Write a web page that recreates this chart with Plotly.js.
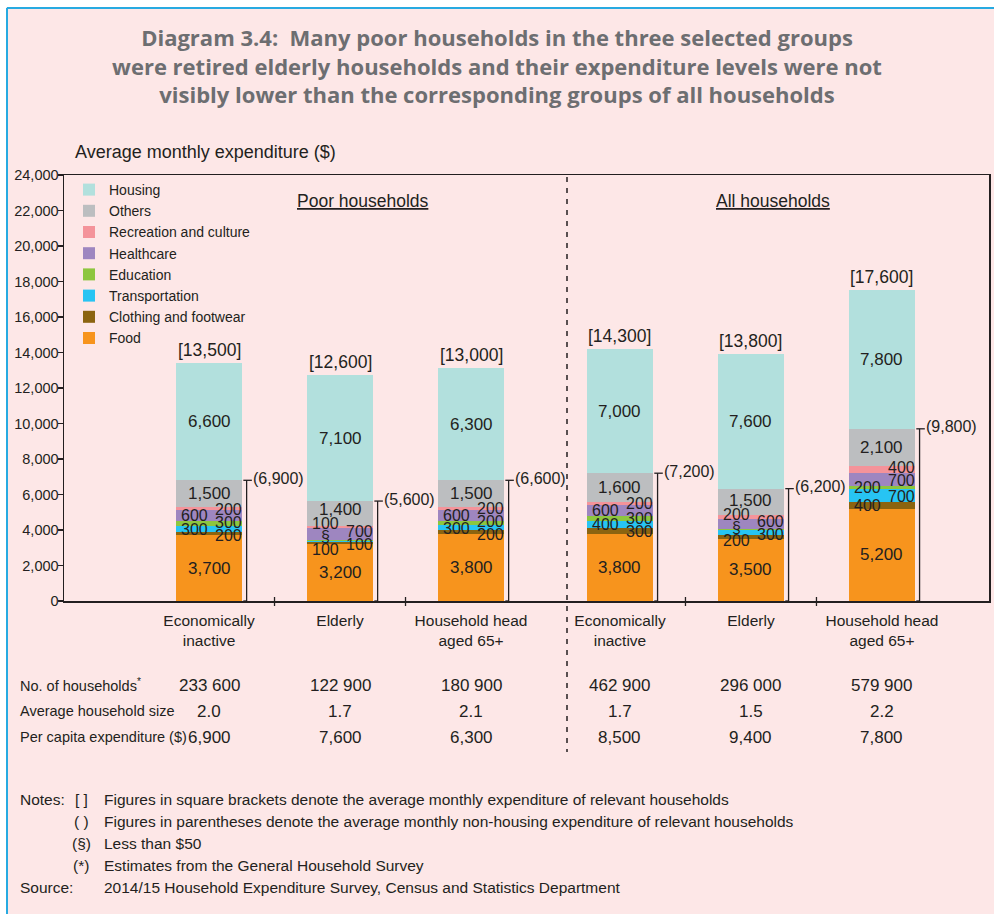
<!DOCTYPE html>
<html><head><meta charset="utf-8">
<script src="https://cdn.plot.ly/plotly-3.0.1.min.js"></script>
<style>html,body{margin:0;padding:0;background:#fff}#chart{width:994px;height:914px}</style>
</head><body><div id="chart"></div>
<script>
// ---------------- data ----------------
const categories = ['Economically<br>inactive','Elderly','Household head<br>aged 65+','Economically<br>inactive','Elderly','Household head<br>aged 65+'];
const groupNames = ['Poor households','All households'];
const seriesNames = ['Food','Clothing and footwear','Transportation','Education','Healthcare','Recreation and culture','Others','Housing'];
const food           = [3700,3200,3800,3800,3500,5200];
const clothing       = [200,100,200,300,200,400];
const transportation = [300,100,300,400,300,700];
const education      = [300,30,200,300,30,200];   // 30 = "§" (less than $50)
const healthcare     = [600,700,600,600,600,700];
const recreation     = [200,100,200,200,200,400];
const others         = [1500,1400,1500,1600,1500,2100];
const housing        = [6600,7100,6300,7000,7600,7800];
const totalExpenditure      = [13500,12600,13000,14300,13800,17600];
const nonHousingExpenditure = [6900,5600,6600,7200,6200,9800];
const tableLabels = ['No. of households<sup>*</sup>','Average household size','Per capita expenditure ($)'];
const households    = ['233 600','122 900','180 900','462 900','296 000','579 900'];
const householdSize = ['2.0','1.7','2.1','1.7','1.5','2.2'];
const perCapita     = ['6,900','7,600','6,300','8,500','9,400','7,800'];
const titleLines = ['Diagram 3.4:\u00a0 Many poor households in the three selected groups',
  'were retired elderly households and their expenditure levels were not',
  'visibly lower than the corresponding groups of all households'];
const yTitle = 'Average monthly expenditure ($)';
const noteMarkers = ['[ ]','( )','(§)','(*)'];
const noteTexts = ['Figures in square brackets denote the average monthly expenditure of relevant households',
  'Figures in parentheses denote the average monthly non-housing expenditure of relevant households',
  'Less than $50',
  'Estimates from the General Household Survey'];
const sourceText = '2014/15 Household Expenditure Survey, Census and Statistics Department';

// ---------------- styles ----------------
const colors = ['#f7941d','#8b6410','#27c4f3','#8dc63f','#9e86c0','#f4939a','#bcbec0','#b2e0dd'];
const FONT = 'Liberation Sans, Arial, sans-serif';
const TXT = '#231f20';
const seriesValues = [food, clothing, transportation, education, healthcare, recreation, others, housing];
const bigSeries = [0,6,7];
const smallSeries = [1,2,3,4,5];
const labelSides = [[1,-1,1,-1,1],[-1,1,-1,1,-1],[1,-1,1,-1,1],[1,-1,1,-1,1],[-1,1,-1,1,-1],[-1,1,-1,1,1]];
const groupGap = 0.137;
const positions = categories.map((c,i) => i + (i >= 3 ? groupGap : 0));
const XR = [-1.107, 5.954];
const YR = [0, 24000];
const M = {l:64, r:5, t:175, b:313};
const PW = 994 - M.l - M.r, PH = 914 - M.t - M.b;
const xp = px => (px - M.l) / PW;           // pixel -> paper x
const yp = py => (M.t + PH - py) / PH;       // pixel -> paper y
const dx2p = v => (v - XR[0]) / (XR[1] - XR[0]);
const barW = 0.504;
const fmt = v => v.toLocaleString('en-US');
const f = (size) => ({family:FONT, size:size, color:TXT});

// ---------------- traces ----------------
const traces = seriesNames.map((n,s) => ({
  type:'bar', name:n, x:positions, y:seriesValues[s], width:barW,
  marker:{color:colors[s], line:{width:0}}, hoverinfo:'name+y'
}));

// ---------------- annotations ----------------
const ann = [];
const shapes = [];
const A = (o) => ann.push(Object.assign({showarrow:false, xanchor:'center', yanchor:'middle'}, o));
const gapVal = 13 * (YR[1]-YR[0]) / PH;
positions.forEach((x,b) => {
  let base = 0; const centers = [];
  seriesValues.forEach((arr,s) => { centers[s] = base + arr[b]/2; base += arr[b]; });
  let topSmall = 0;
  [-1,1].forEach(side => {
    const items = smallSeries.filter((s,k) => labelSides[b][k] === side);
    const pos = [];
    items.forEach((s,k) => { pos[k] = k === 0 ? centers[s] : Math.max(centers[s], pos[k-1] + gapVal); });
    const shift = items.reduce((a,s,k) => a + pos[k] - centers[s], 0) / (items.length || 1);
    items.forEach((s,k) => {
      const v = seriesValues[s][b];
      const yy = pos[k] - shift;
      topSmall = Math.max(topSmall, yy);
      A({x: x + (side < 0 ? -0.11 : 0.15), y: yy, xref:'x', yref:'y', text: v < 50 ? '§' : fmt(v), font:f(16)});
    });
  });
  bigSeries.forEach(s => {
    const yy = s === 6 ? Math.max(centers[s], topSmall + gapVal * 1.1) : centers[s];
    A({x:x, y:yy, xref:'x', yref:'y', text:fmt(seriesValues[s][b]), font:f(17)});
  });
  // non-housing bracket
  const nh = base - housing[b];
  const bx = x + barW/2 + 0.035;
  shapes.push({type:'line', xref:'x', yref:'y', x0:bx, x1:bx, y0:0, y1:nh, line:{color:TXT, width:1.3}});
  shapes.push({type:'line', xref:'x', yref:'y', x0:x + barW/2 + 0.01, x1:x + barW/2 + 0.075, y0:nh, y1:nh, line:{color:TXT, width:1.3}});
  shapes.push({type:'line', xref:'x', yref:'y', x0:x + barW/2 + 0.01, x1:bx, y0:0, y1:0, line:{color:TXT, width:1.3}});
  A({x: x + barW/2 + 0.07, y: nh, xref:'x', yref:'y', xanchor:'left', yshift:2, text:'(' + fmt(nonHousingExpenditure[b]) + ')', font:f(16)});
  // total
  A({x:x, y:base, xref:'x', yref:'y', yanchor:'bottom', yshift:1, text:'[' + fmt(totalExpenditure[b]) + ']', font:f(17.5)});
  // table values
  [households, householdSize, perCapita].forEach((row,r) => A({x:x, xref:'x', y:yp(685 + r*26), yref:'paper', text:row[b], font:f(17)}));
});
tableLabels.forEach((t,r) => A({x:xp(18), xref:'paper', xanchor:'left', y:yp(685 + r*26), yref:'paper', text:t, font:f(14.5)}));
// group headers
[1.176, 4.305].forEach((gx,g) => A({x:gx, xref:'x', y:yp(201), yref:'paper', text:'<u>' + groupNames[g] + '</u>', font:f(17.5)}));
// y title
A({x:xp(73), xref:'paper', xanchor:'left', y:yp(152), yref:'paper', text:yTitle, font:f(18)});
// notes
noteMarkers.forEach((m,i) => {
  A({x:xp(81), xref:'paper', y:yp(799 + i*22), yref:'paper', text:m, font:f(15.5)});
  A({x:xp(102), xref:'paper', xanchor:'left', y:yp(799 + i*22), yref:'paper', text:noteTexts[i], font:f(15.5)});
});
A({x:xp(18), xref:'paper', xanchor:'left', y:yp(799), yref:'paper', text:'Notes:', font:f(15.5)});
A({x:xp(18), xref:'paper', xanchor:'left', y:yp(887), yref:'paper', text:'Source:', font:f(15.5)});
A({x:xp(102), xref:'paper', xanchor:'left', y:yp(887), yref:'paper', text:sourceText, font:f(15.5)});

// ---------------- shapes ----------------
[[0,1],[1,2],[3,4],[4,5]].forEach(([a,c]) => {
  const xx = dx2p((positions[a] + positions[c]) / 2);
  shapes.push({type:'line', xref:'paper', yref:'paper', x0:xx, x1:xx, y0:yp(597), y1:yp(606), line:{color:TXT, width:1.3}});
});
shapes.push({type:'line', xref:'paper', yref:'paper', x0:xp(567), x1:xp(567), y0:yp(177), y1:yp(752),
  line:{color:TXT, width:1.5, dash:'5px,6px'}});
shapes.push({type:'rect', xref:'paper', yref:'paper', x0:xp(-20), x1:xp(6), y0:yp(1000), y1:yp(-20), fillcolor:'#ffffff', line:{width:0}, layer:'below'});
shapes.push({type:'rect', xref:'paper', yref:'paper', x0:xp(-20), x1:xp(1020), y0:yp(7), y1:yp(-20), fillcolor:'#ffffff', line:{width:0}, layer:'below'});
shapes.push({type:'line', xref:'paper', yref:'paper', x0:xp(7), x1:xp(7), y0:yp(8), y1:yp(1000), line:{color:'#27aae1', width:2}});
shapes.push({type:'line', xref:'paper', yref:'paper', x0:xp(7), x1:xp(1020), y0:yp(8), y1:yp(8), line:{color:'#27aae1', width:2}});

const layout = {
  width:994, height:914, margin:M,
  paper_bgcolor:'#fde7e7', plot_bgcolor:'rgba(0,0,0,0)',
  barmode:'stack', bargap:0,
  title:{text: titleLines.map(t => '<b>' + t + '</b>').join('<br>'), font:{family:'Open Sans, Lato, sans-serif', size:22, color:'#6d6e71'},
    x:0.5, xanchor:'center', xref:'container', y:1 - 46/914, yanchor:'middle', yref:'container'},
  xaxis:{range:XR, tickvals:positions, ticktext:categories, ticks:'', ticklabelstandoff:5, showline:true, mirror:true, linecolor:TXT, linewidth:1.5,
    showgrid:false, zeroline:false, tickfont:f(15.5), fixedrange:true},
  yaxis:{range:YR, dtick:2000, tickformat:',d', ticks:'outside', ticklen:5, tickcolor:TXT, tickwidth:1.3, ticklabelstandoff:-4, showline:true, mirror:true,
    linecolor:TXT, linewidth:1.5, showgrid:false, zeroline:false, tickfont:f(14.5), fixedrange:true},
  legend:{x:xp(69), y:yp(174), xanchor:'left', yanchor:'top', traceorder:'reversed', bgcolor:'rgba(0,0,0,0)', font:f(14)},
  showlegend:true,
  annotations:ann, shapes:shapes
};
Plotly.newPlot('chart', traces, layout, {displayModeBar:false, staticPlot:true});
</script>
</body></html>
